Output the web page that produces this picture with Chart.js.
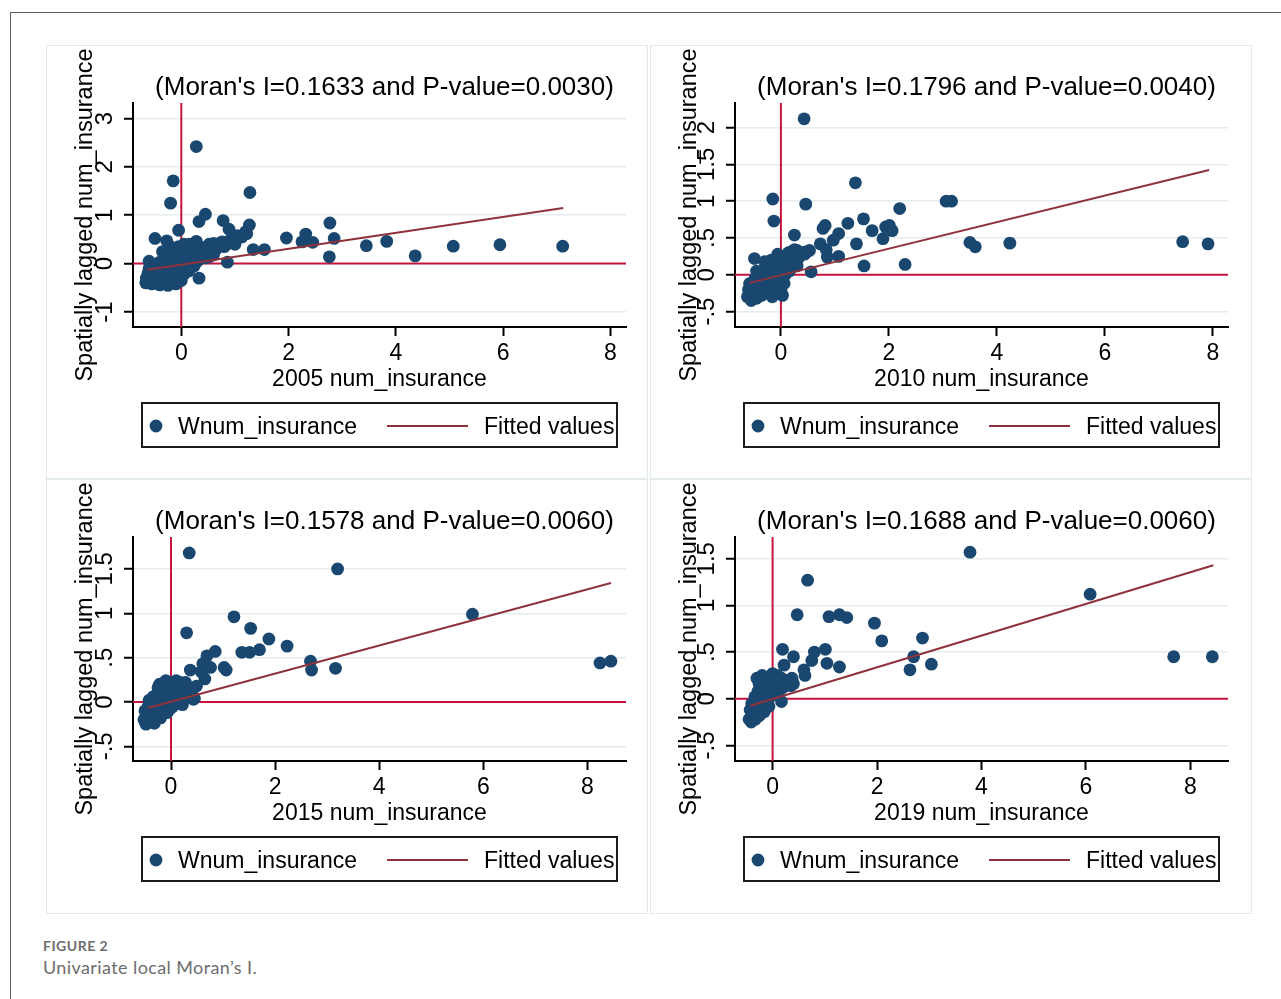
<!DOCTYPE html>
<html>
<head>
<meta charset="utf-8">
<script src="https://cdn.jsdelivr.net/npm/chart.js@4.4.1/dist/chart.umd.min.js"></script>
<style>
  body { margin: 0; background: #fff; width: 1281px; height: 999px; overflow: hidden; position: relative; }
  #frame { position: absolute; left: 10px; top: 12px; width: 1300px; height: 1000px;
           border-top: 1px solid #5c5c5c; border-left: 1px solid #5c5c5c; }
  .panel { position: absolute; width: 600px; border: 1px solid #e4ebee; background: #fff; }
  .panel canvas { display: block; }
  #cap1 { position: absolute; left: 43px; top: 939px; font: bold 14px/14px Lato, sans-serif; letter-spacing: 0.5px; color: #6d6d6d; }
  #cap2 { position: absolute; left: 43px; top: 958px; font: 18px/18px Lato, sans-serif; letter-spacing: 0.4px; color: #6d6d6d; }
</style>
</head>
<body>
<div id="frame"></div>
<div class="panel" style="left:46px;top:45px;height:432px"><canvas id="c1" width="600" height="432"></canvas></div>
<div class="panel" style="left:650px;top:45px;height:432px"><canvas id="c2" width="600" height="432"></canvas></div>
<div class="panel" style="left:46px;top:479px;height:433px"><canvas id="c3" width="600" height="433"></canvas></div>
<div class="panel" style="left:650px;top:479px;height:433px"><canvas id="c4" width="600" height="433"></canvas></div>
<div id="cap1">FIGURE 2</div>
<div id="cap2">Univariate local Moran’s I.</div>
<script>
const FONT = '"Liberation Sans", Arial, sans-serif';
const NAVY = '#1a476f', FITRED = '#8f323b', REFRED = '#c8143c', GRID = '#e3ecef';

const years = ['2005', '2010', '2015', '2019'];
const moranI = ['0.1633', '0.1796', '0.1578', '0.1688'];
const pValue = ['0.0030', '0.0040', '0.0060', '0.0060'];

// scatter points [num_insurance, Wnum_insurance]
const pts2005 = [
  [0.28,2.42],[-0.15,1.71],[-0.20,1.25],[1.28,1.47],[0.45,1.02],[0.33,0.87],[-0.05,0.69],[0.78,0.89],
  [0.89,0.71],[1.27,0.80],[1.20,0.66],[1.13,0.55],[-0.49,0.52],[-0.27,0.47],[0.28,0.46],[0.52,0.40],
  [0.76,0.45],[0.91,0.48],[1.34,0.29],[1.55,0.29],[1.96,0.53],[2.32,0.61],[2.25,0.45],[2.45,0.44],
  [2.77,0.84],[2.85,0.52],[2.76,0.14],[3.45,0.37],[3.83,0.46],[4.36,0.16],[5.07,0.36],[5.94,0.39],
  [7.11,0.36],[0.86,0.03],[0.33,-0.30],[0.52,0.14],
  [1.22,0.62],[1.05,0.58],[0.98,0.50],[0.85,0.40],[0.70,0.36],[0.62,0.30],[0.55,0.25],[0.42,0.22],
  [0.38,0.32],[0.46,0.34],[0.60,0.42],[1.00,0.40],[0.35,0.20],[0.40,0.30],[0.45,0.25],[0.65,0.30],
  [0.80,0.35],[0.60,0.18],[0.45,0.12],
  [-0.65,-0.30],[-0.62,-0.20],[-0.60,-0.10],[-0.58,-0.35],[-0.55,-0.25],[-0.52,-0.15],[-0.50,-0.05],
  [-0.50,-0.38],[-0.47,-0.28],[-0.45,-0.18],[-0.44,-0.08],[-0.42,0.02],[-0.40,-0.35],[-0.38,-0.22],
  [-0.37,-0.12],[-0.35,0.05],[-0.33,0.12],[-0.32,-0.30],[-0.30,-0.18],[-0.28,-0.05],[-0.27,0.08],
  [-0.25,0.20],[-0.24,-0.38],[-0.22,-0.25],[-0.20,-0.10],[-0.19,0.02],[-0.17,0.15],[-0.15,0.28],
  [-0.14,-0.32],[-0.12,-0.18],[-0.10,-0.05],[-0.09,0.10],[-0.07,0.22],[-0.05,0.35],[-0.04,-0.28],
  [-0.02,-0.12],[0.00,0.02],[0.02,0.15],[0.03,0.28],[0.05,-0.22],[0.07,-0.08],[0.09,0.06],[0.10,0.20],
  [0.12,0.32],[0.14,-0.15],[0.16,0.00],[0.18,0.12],[0.20,0.25],[0.22,0.38],[0.24,-0.05],[0.26,0.10],
  [0.28,0.22],[0.30,0.05],[-0.60,0.05],[-0.35,0.25],[-0.20,0.35],[0.05,0.40],[0.15,0.40],
  [-0.55,-0.42],[-0.40,-0.44],[-0.25,-0.45],[-0.10,-0.42],[0.00,-0.35],[-0.66,-0.40]
];
const pts2010 = [
  [0.43,2.12],[-0.15,1.03],[0.46,0.96],[-0.13,0.73],[1.38,1.25],[2.20,0.90],[1.53,0.76],[1.24,0.70],
  [0.82,0.67],[0.78,0.63],[1.69,0.60],[1.94,0.65],[2.01,0.67],[2.06,0.60],[1.89,0.49],[1.07,0.56],
  [0.97,0.47],[0.73,0.42],[0.84,0.34],[1.40,0.42],[0.86,0.24],[1.07,0.25],[1.54,0.12],[2.30,0.14],
  [0.25,0.54],[-0.49,0.22],[0.56,0.04],[0.03,-0.28],[3.06,1.00],[3.16,1.00],[3.50,0.44],[3.60,0.38],
  [4.24,0.43],[7.44,0.45],[7.91,0.42],[0.46,0.31],[0.53,0.33],
  [0.38,0.30],[0.44,0.28],[0.30,0.33],[0.25,0.34],
  [-0.62,-0.30],[-0.60,-0.20],[-0.58,-0.12],[-0.55,-0.35],[-0.52,-0.25],[-0.50,-0.15],[-0.48,-0.05],
  [-0.45,-0.32],[-0.43,-0.20],[-0.40,-0.10],[-0.38,0.00],[-0.36,-0.28],[-0.34,-0.15],[-0.32,-0.05],
  [-0.30,0.05],[-0.28,0.12],[-0.26,-0.25],[-0.24,-0.12],[-0.22,0.00],[-0.20,0.10],[-0.18,0.20],
  [-0.16,-0.30],[-0.14,-0.18],[-0.12,-0.05],[-0.10,0.08],[-0.08,0.18],[-0.06,0.28],[-0.04,-0.20],
  [-0.02,-0.08],[0.00,0.05],[0.02,0.15],[0.04,0.25],[0.06,-0.12],[0.08,0.00],[0.10,0.10],[0.12,0.20],
  [0.14,0.30],[0.16,0.05],[0.18,0.15],[0.20,0.25],[0.22,0.32],[0.25,0.18],[0.28,0.28],[0.30,0.12],
  [0.32,0.22],[0.35,0.30],[-0.45,0.05],[-0.30,0.18],[-0.08,-0.25],[0.00,-0.22]
];
const pts2015 = [
  [0.35,1.68],[3.20,1.50],[5.79,0.99],[1.21,0.96],[1.53,0.83],[1.88,0.71],[2.23,0.63],[1.70,0.59],
  [1.36,0.56],[1.51,0.56],[0.30,0.78],[0.85,0.57],[0.69,0.52],[0.76,0.39],[0.61,0.43],[1.02,0.39],
  [1.06,0.36],[0.37,0.36],[0.58,0.34],[0.65,0.26],[0.49,0.18],[2.68,0.46],[2.70,0.36],[3.16,0.38],
  [8.24,0.44],[8.45,0.46],[0.22,-0.03],[0.43,0.03],
  [-0.52,-0.20],[-0.50,-0.10],[-0.48,-0.25],[-0.46,-0.15],[-0.44,-0.05],[-0.42,0.02],[-0.40,-0.22],
  [-0.38,-0.12],[-0.36,-0.02],[-0.34,0.06],[-0.32,-0.24],[-0.30,-0.16],[-0.28,-0.06],[-0.26,0.04],
  [-0.24,0.12],[-0.22,0.20],[-0.20,-0.18],[-0.18,-0.08],[-0.16,0.02],[-0.14,0.10],[-0.12,0.18],
  [-0.10,0.24],[-0.08,-0.12],[-0.06,-0.02],[-0.04,0.08],[-0.02,0.15],[0.00,0.22],[0.02,-0.06],
  [0.04,0.04],[0.06,0.12],[0.08,0.20],[0.10,0.24],[0.12,0.00],[0.14,0.08],[0.16,0.16],[0.18,0.22],
  [0.22,0.10],[0.25,0.18],[0.28,0.22],[0.32,0.12],[0.36,0.05],[0.40,0.10],[0.45,0.04],[-0.25,0.16],
  [-0.05,-0.10],[0.05,0.18]
];
const pts2019 = [
  [3.78,1.57],[0.67,1.27],[6.08,1.12],[0.47,0.90],[1.08,0.88],[1.28,0.90],[1.42,0.87],[1.95,0.81],
  [2.09,0.62],[2.87,0.65],[0.19,0.53],[0.40,0.45],[0.80,0.50],[1.01,0.53],[0.75,0.41],[1.04,0.38],
  [0.22,0.36],[0.60,0.31],[0.62,0.25],[1.28,0.34],[2.70,0.45],[2.63,0.31],[3.04,0.37],[7.68,0.45],
  [8.42,0.45],[0.17,-0.03],[0.34,0.18],[0.37,0.22],
  [-0.45,-0.22],[-0.43,-0.12],[-0.41,-0.25],[-0.40,-0.05],[-0.38,-0.18],[-0.36,-0.08],[-0.34,0.02],
  [-0.33,-0.22],[-0.31,-0.12],[-0.29,-0.02],[-0.28,0.08],[-0.26,0.16],[-0.25,-0.18],[-0.23,-0.08],
  [-0.21,0.02],[-0.19,0.12],[-0.18,0.20],[-0.16,-0.14],[-0.14,-0.04],[-0.12,0.06],[-0.10,0.14],
  [-0.09,0.22],[-0.07,-0.08],[-0.05,0.02],[-0.03,0.10],[-0.01,0.18],[0.00,0.27],[0.03,0.05],
  [0.05,0.12],[0.07,0.20],[0.09,0.25],[0.12,0.08],[0.14,0.16],[0.17,0.22],[0.20,0.12],[0.23,0.20],
  [0.27,0.15],[0.30,0.18],[0.35,0.14],[0.40,0.16],[-0.30,0.22],[-0.20,0.25]
];

// fitted values line ends
const fitX2005 = [-0.63, 7.12], fitY2005 = [-0.125, 1.15];
const fitX2010 = [-0.58, 7.93], fitY2010 = [-0.11, 1.425];
const fitX2015 = [-0.45, 8.45], fitY2015 = [-0.068, 1.342];
const fitX2019 = [-0.425, 8.44], fitY2019 = [-0.075, 1.43];

// axis ranges and ticks
const xRange2005 = [-0.9, 8.29], yRange2005 = [-1.31, 3.32];
const xRange2010 = [-0.85, 8.28], yRange2010 = [-0.71, 2.335];
const xRange2015 = [-0.73, 8.74], yRange2015 = [-0.665, 1.86];
const xRange2019 = [-0.72, 8.72], yRange2019 = [-0.667, 1.733];
const xTicks = [0, 2, 4, 6, 8];
const xLabels = ['0', '2', '4', '6', '8'];
const yTicks2005 = [-1, 0, 1, 2, 3], yLabels2005 = ['-1', '0', '1', '2', '3'];
const yTicks2010 = [-0.5, 0, 0.5, 1, 1.5, 2], yLabels2010 = ['-.5', '0', '.5', '1', '1.5', '2'];
const yTicks2015 = [-0.5, 0, 0.5, 1, 1.5], yLabels2015 = ['-.5', '0', '.5', '1', '1.5'];

const panels = [
  { id: 'c1', pts: pts2005, fx: fitX2005, fy: fitY2005, xr: xRange2005, yr: yRange2005, yt: yTicks2005, yl: yLabels2005, left: 86, right: 579 },
  { id: 'c2', pts: pts2010, fx: fitX2010, fy: fitY2010, xr: xRange2010, yr: yRange2010, yt: yTicks2010, yl: yLabels2010, left: 84, right: 577 },
  { id: 'c3', pts: pts2015, fx: fitX2015, fy: fitY2015, xr: xRange2015, yr: yRange2015, yt: yTicks2015, yl: yLabels2015, left: 86, right: 579 },
  { id: 'c4', pts: pts2019, fx: fitX2019, fy: fitY2019, xr: xRange2019, yr: yRange2019, yt: yTicks2015, yl: yLabels2015, left: 84, right: 577 }
];

const AREA_TOP = 57, AREA_BOTTOM = 281, XAXIS_H = 66;

const measure = document.createElement('canvas').getContext('2d');

// title above plot and boxed legend below it
const decoPlugin = {
  id: 'deco',
  afterDraw(chart, args, opts) {
    const { ctx, chartArea: a } = chart;
    const fit = chart.data.datasets[0], sc = chart.data.datasets[1];
    ctx.save();
    ctx.fillStyle = '#000';
    ctx.font = '26px ' + FONT;
    ctx.textAlign = 'center';
    ctx.textBaseline = 'alphabetic';
    ctx.fillText(opts.text, (a.left + a.right) / 2 + 5, 48.5);

    const bx = a.left + 9, bw = a.right - a.left - 18, by = 357, bh = 44;
    ctx.lineWidth = 2;
    ctx.strokeStyle = '#1c1c1c';
    ctx.strokeRect(bx, by, bw, bh);
    const cy = by + bh / 2 + 1;
    ctx.fillStyle = sc.backgroundColor;
    ctx.beginPath();
    ctx.arc(bx + 14, cy, sc.pointRadius, 0, Math.PI * 2);
    ctx.fill();
    ctx.strokeStyle = fit.borderColor;
    ctx.lineWidth = fit.borderWidth;
    ctx.beginPath();
    ctx.moveTo(bx + 245, cy);
    ctx.lineTo(bx + 326, cy);
    ctx.stroke();
    ctx.fillStyle = '#000';
    ctx.font = '23px ' + FONT;
    ctx.textAlign = 'left';
    ctx.fillText(sc.label, bx + 36, by + 31);
    ctx.fillText(fit.label, bx + 342, by + 31);
    ctx.restore();
  }
};

panels.forEach((p, i) => {
  const canvas = document.getElementById(p.id);
  measure.font = '24px ' + FONT;
  const widest = Math.max(...p.yl.map(l => measure.measureText(l).width));

  new Chart(canvas, {
    type: 'scatter',
    data: {
      datasets: [
        {
          label: 'Fitted values',
          data: p.fx.map((x, k) => ({ x: x, y: p.fy[k] })),
          showLine: true, borderColor: FITRED, borderWidth: 2, pointRadius: 0
        },
        {
          label: 'Wnum_insurance',
          data: p.pts.map(d => ({ x: d[0], y: d[1] })),
          backgroundColor: NAVY, borderWidth: 0, pointRadius: 6.4
        },
        {
          label: 'y0',
          data: [{ x: p.xr[0], y: 0 }, { x: p.xr[1], y: 0 }],
          showLine: true, borderColor: REFRED, borderWidth: 2, pointRadius: 0
        },
        {
          label: 'x0',
          data: [{ x: 0, y: p.yr[0] }, { x: 0, y: p.yr[1] }],
          showLine: true, borderColor: REFRED, borderWidth: 2, pointRadius: 0
        }
      ]
    },
    options: {
      responsive: false,
      animation: false,
      events: [],
      layout: { padding: { left: 0, top: AREA_TOP, right: 600 - p.right, bottom: canvas.height - AREA_BOTTOM - XAXIS_H } },
      plugins: {
        legend: { display: false },
        tooltip: { enabled: false },
        deco: { text: '(Moran\'s I=' + moranI[i] + ' and P-value=' + pValue[i] + ')' }
      },
      scales: {
        x: {
          type: 'linear', min: p.xr[0], max: p.xr[1],
          afterBuildTicks: s => { s.ticks = xTicks.map(v => ({ value: v })); },
          afterFit: s => { s.height = XAXIS_H; },
          ticks: {
            autoSkip: false, maxRotation: 0, padding: 4, color: '#000',
            font: { family: FONT, size: 23 },
            callback: (v, k) => xLabels[k]
          },
          grid: { drawOnChartArea: false, tickColor: '#000', tickLength: 9, tickWidth: 2 },
          border: { color: '#000', width: 2 },
          title: { display: true, text: years[i] + ' num_insurance', color: '#000', font: { family: FONT, size: 23 }, padding: 0 }
        },
        y: {
          type: 'linear', min: p.yr[0], max: p.yr[1],
          afterBuildTicks: s => { s.ticks = p.yt.map(v => ({ value: v })); },
          afterFit: s => { s.width = p.left; },
          ticks: {
            autoSkip: false, minRotation: 90, maxRotation: 90, crossAlign: 'center',
            padding: 19 - widest / 2, color: '#000',
            font: { family: FONT, size: 24 },
            callback: (v, k) => p.yl[k]
          },
          grid: { color: GRID, lineWidth: 1.5, tickColor: '#000', tickLength: 9, tickWidth: 2 },
          border: { color: '#000', width: 2 },
          title: { display: true, text: 'Spatially lagged num_insurance', color: '#000', font: { family: FONT, size: 23.5 }, padding: { top: 24, bottom: 0 } }
        }
      }
    },
    plugins: [decoPlugin]
  });
});
</script>
</body>
</html>
